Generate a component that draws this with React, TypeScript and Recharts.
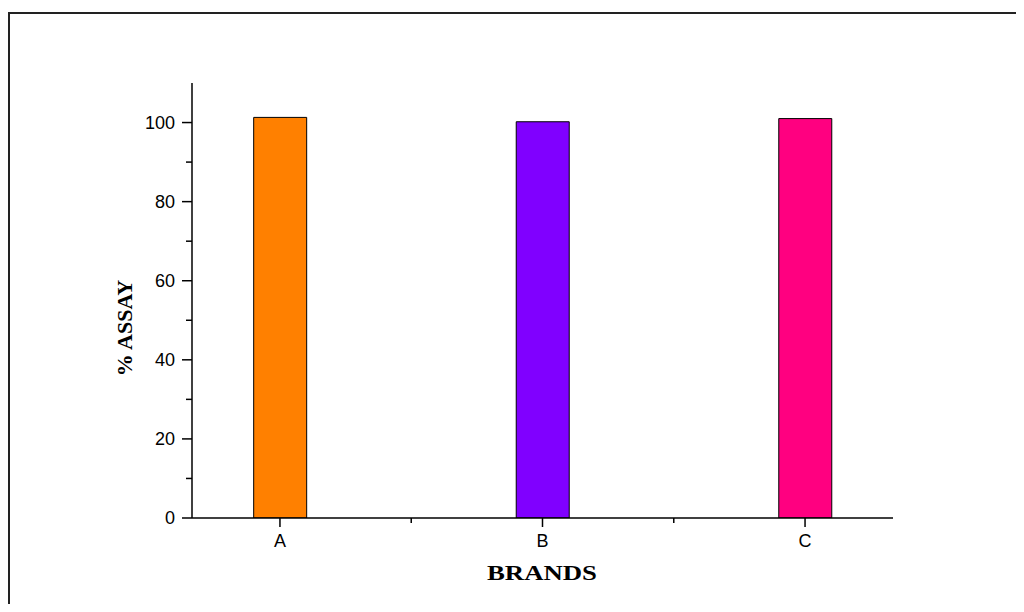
import { BarChart, Bar, XAxis, YAxis, Cell, Label } from "recharts";

const brands = ["A", "B", "C"];
const assay = [101.3, 100.2, 101.0];
const barColors = ["#ff8000", "#8000ff", "#ff0080"];
const yTicks = [0, 10, 20, 30, 40, 50, 60, 70, 80, 90, 100];
const xTicks = [1, 1.5, 2, 2.5, 3];

const data = brands.map((name, i) => ({ pos: i + 1, name, value: assay[i] }));

const tickFont = { fontFamily: "'Liberation Sans', Arial, sans-serif", fontSize: 18, fill: "#000" };
const titleFont = { fontFamily: "'Liberation Serif', 'Times New Roman', serif", fontSize: 22, fontWeight: 700, fill: "#000" };

const YTick = (props: any) => {
  const { x, y, payload } = props;
  const major = payload.value % 20 === 0;
  return (
    <g>
      <line x1={x - (major ? 10 : 6)} x2={x} y1={y} y2={y} stroke="#000" strokeWidth={1.5} />
      {major && (
        <text x={x - 17} y={y} dy="0.36em" textAnchor="end" {...tickFont}>
          {payload.value}
        </text>
      )}
    </g>
  );
};

const XTick = (props: any) => {
  const { x, y, payload } = props;
  const major = Number.isInteger(payload.value);
  return (
    <g>
      <line x1={x} x2={x} y1={y} y2={y + (major ? 9 : 5)} stroke="#000" strokeWidth={1.5} />
      {major && (
        <text x={x} y={y + 28.5} textAnchor="middle" {...tickFont}>
          {brands[payload.value - 1]}
        </text>
      )}
    </g>
  );
};

// everything sits inside the body's 8px margin (1008 x 596)
const App = () => {
  return (
    <div style={{ position: "relative", width: 1008, height: 596 }}>
      <BarChart width={1008} height={596} data={data} margin={{ top: 75, right: 123, bottom: 56, left: 124 }}>
        <XAxis
          dataKey="pos"
          type="number"
          domain={[0.665, 3.335]}
          ticks={xTicks}
          allowDataOverflow
          height={30}
          tickSize={0}
          tickMargin={0}
          tickLine={false}
          tick={<XTick />}
          axisLine={{ stroke: "#000", strokeWidth: 1.5 }}
        >
          <Label
            content={() => (
              <text x={534} y={572} textAnchor="middle" textLength={110} lengthAdjust="spacingAndGlyphs" {...titleFont}>
                BRANDS
              </text>
            )}
          />
        </XAxis>
        <YAxis
          type="number"
          domain={[0, 110]}
          ticks={yTicks}
          allowDataOverflow
          width={60}
          tickSize={0}
          tickMargin={0}
          tickLine={false}
          tick={<YTick />}
          axisLine={{ stroke: "#000", strokeWidth: 1.5 }}
        >
          <Label
            content={() => (
              <text x={123.5} y={320} textAnchor="middle" transform="rotate(-90 123.5 320)" {...titleFont}>
                % ASSAY
              </text>
            )}
          />
        </YAxis>
        <Bar dataKey="value" barSize={53} stroke="#000" strokeWidth={1} isAnimationActive={false}>
          {data.map((d, i) => (
            <Cell key={d.name} fill={barColors[i]} />
          ))}
        </Bar>
      </BarChart>
      <svg width={1008} height={596} style={{ position: "absolute", left: 0, top: 0, pointerEvents: "none" }}>
        <line x1={1} y1={4} x2={1} y2={596} stroke="#222" strokeWidth={2} />
        <line x1={0} y1={5} x2={1008} y2={5} stroke="#222" strokeWidth={2} />
      </svg>
    </div>
  );
};

export default App;
